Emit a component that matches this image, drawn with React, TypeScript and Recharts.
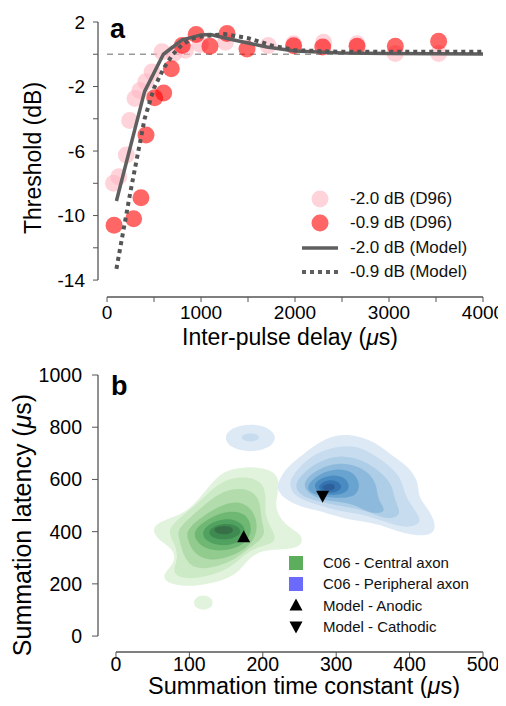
import React from "react";
import {
  ScatterChart,
  Scatter,
  XAxis,
  YAxis,
  ReferenceLine,
  Legend,
  Label,
} from "recharts";

type Pt = { x: number; y: number };
const pts = (rows: number[][]): Pt[] => rows.map(([x, y]) => ({ x, y }));

// ---- panel a: threshold vs inter-pulse delay ----
const d96Weak = pts([
  [70, -8.0], [125, -7.6], [205, -6.25], [241, -4.1], [298, -2.75], [350, -2.25],
  [412, -1.7], [479, -1.1], [585, 0.15], [709, 0.05], [833, 0.25], [993, 0.6],
  [1260, 0.75], [1715, 0.55], [1985, 0.65], [2304, 0.75], [2660, 0.65], [3067, 0.05],
  [3528, 0.05],
]);
const d96Strong = pts([
  [75, -10.6], [283, -10.2], [361, -8.9], [415, -5.0], [507, -2.7], [603, -2.4],
  [684, -0.9], [800, 0.55], [948, 1.22], [1095, 0.5], [1277, 1.28], [1489, 0.32],
  [1985, 0.53], [2295, 0.45], [2660, 0.5], [3067, 0.5], [3528, 0.8],
]);
const modelWeak = pts([
  [100, -9.1], [400, -2.3], [600, 0.0], [800, 0.9], [1000, 1.2], [1100, 1.22],
  [1300, 0.95], [1500, 0.7], [1700, 0.45], [2000, 0.2], [2500, 0.08], [3000, 0.05],
  [4000, 0.02],
]);
const modelStrong = pts([
  [100, -13.3], [250, -8.5], [400, -4.0], [500, -2.1], [600, -0.9], [700, 0.0],
  [800, 0.6], [900, 0.95], [1000, 1.1], [1250, 1.25], [1500, 1.0], [1750, 0.55],
  [2000, 0.25], [2500, 0.15], [4000, 0.15],
]);
const xTicksA = [0, 500, 1000, 1500, 2000, 2500, 3000, 3500, 4000];
const xLabelsA = [0, 1000, 2000, 3000, 4000];
const yTicksA = [2, 0, -2, -4, -6, -8, -10, -12, -14];
const yLabelsA = [2, -2, -6, -10, -14];
const legendLabelsA = ["-2.0 dB (D96)", "-0.9 dB (D96)", "-2.0 dB (Model)", "-0.9 dB (Model)"];

// ---- panel b: summation latency vs time constant (density contours) ----
const greenLevel1 = pts([
  [47, 414], [66, 446], [93, 468], [113, 525], [133, 595], [148, 634], [176, 650],
  [209, 642], [223, 607], [220, 540], [216, 483], [233, 418], [254, 390], [254, 345],
  [232, 331], [199, 331], [179, 293], [166, 239], [141, 208], [106, 188], [72, 197],
  [61, 232], [82, 284], [78, 335], [58, 366],
]);
const greenLevel2 = pts([
  [69, 406], [87, 455], [111, 507], [134, 572], [153, 604], [180, 611], [201, 590],
  [205, 521], [202, 464], [213, 408], [220, 358], [195, 343], [176, 316], [157, 262],
  [127, 228], [92, 216], [75, 243], [86, 299], [79, 360],
]);
const greenLevel3 = pts([
  [82, 406], [106, 467], [130, 526], [153, 565], [182, 565], [197, 523], [197, 444],
  [206, 385], [184, 343], [163, 293], [134, 262], [105, 255], [91, 310], [87, 368],
]);
const greenLevel4 = pts([
  [95, 406], [120, 464], [145, 504], [170, 519], [189, 478], [194, 406], [183, 345],
  [157, 304], [127, 285], [105, 318], [98, 368],
]);
const greenLevel5 = pts([
  [105, 406], [129, 457], [153, 481], [178, 473], [187, 406], [176, 350], [149, 324],
  [122, 331], [108, 368],
]);
const greenLevel6 = pts([
  [115, 406], [137, 447], [164, 451], [180, 406], [170, 358], [145, 343], [122, 360],
]);
const greenLevel7 = pts([
  [124, 406], [144, 434], [166, 426], [173, 393], [154, 366], [130, 374],
]);
const greenLevel8 = pts([
  [130, 410], [145, 425], [161, 416], [159, 392], [141, 387],
]);
const greenIsland = pts([
  [105, 128], [109, 149], [119, 158], [129, 149], [133, 128], [129, 107], [119, 98], [109, 107],
]);

const blueLevel1 = pts([
  [219, 586], [233, 648], [253, 692], [287, 765], [319, 776], [353, 745], [376, 690],
  [399, 650], [413, 586], [411, 533], [427, 483], [438, 414], [426, 381], [396, 389],
  [368, 419], [341, 438], [309, 450], [282, 477], [259, 489], [234, 517], [221, 550],
]);
const blueLevel2 = pts([
  [232, 579], [249, 648], [271, 699], [300, 727], [327, 730], [351, 697], [374, 650],
  [390, 598], [393, 540], [407, 483], [419, 433], [396, 411], [366, 438], [335, 469],
  [305, 477], [274, 504], [248, 525],
]);
const blueLevel3 = pts([
  [241, 579], [260, 640], [284, 680], [312, 693], [338, 672], [360, 630], [377, 579],
  [379, 521], [391, 462], [368, 444], [339, 484], [309, 496], [276, 515], [252, 536],
]);
const blueLevel4 = pts([
  [251, 579], [270, 632], [294, 661], [320, 661], [343, 632], [356, 579], [356, 521],
  [371, 473], [346, 467], [324, 507], [298, 515], [269, 529],
]);
const blueLevel5 = pts([
  [259, 575], [276, 621], [299, 642], [321, 634], [333, 590], [329, 536], [306, 527],
  [280, 534], [264, 549],
]);
const blueLevel6 = pts([
  [266, 575], [281, 609], [300, 619], [316, 602], [319, 557], [303, 538], [281, 542],
]);
const blueLevel7 = pts([
  [273, 571], [285, 598], [301, 598], [310, 571], [300, 548], [283, 548],
]);
const blueLevel8 = pts([
  [279, 572], [289, 585], [299, 582], [298, 557], [284, 556],
]);
const blueIsland = pts([
  [146, 759], [157, 799], [183, 815], [209, 799], [220, 759], [209, 719], [183, 703], [157, 719],
]);
const blueIslandCore = pts([
  [170, 761], [174, 773], [183, 778], [192, 773], [196, 761], [192, 749], [183, 744], [174, 749],
]);

const modelAnodic = pts([[174, 380]]);
const modelCathodic = pts([[281.5, 536]]);

const xTicksB = [0, 100, 200, 300, 400, 500];
const yTicksB = [0, 200, 400, 600, 800, 1000];
const legendLabelsB = ["C06 - Central axon", "C06 - Peripheral axon", "Model - Anodic", "Model - Cathodic"];

// colours
const greens = ["#e2f3dd", "#cdeac6", "#b2dcab", "#92cb8e", "#6fb874", "#51a260", "#3f8a50", "#376f46"];
const blues = ["#dde9f5", "#c8dcef", "#aecde6", "#8dbadc", "#69a3cf", "#4a8cc1", "#3574b0", "#2d5f9c"];
const pink = "#ffb6c1";
const red = "#ff0000";
const lineGrey = "#5f5f5f";
const axisGrey = "#555";
const font = '"Liberation Sans", Arial, Helvetica, sans-serif';

const noDot = () => <g />;
const roundDot = (fill: string) => (p: any) => (
  <circle cx={p.cx} cy={p.cy} r={8.5} fill={fill} fillOpacity={0.6} />
);
const triUp = (p: any) => (
  <path d={`M${p.cx},${p.cy - 6.5}L${p.cx + 6.5},${p.cy + 5.5}L${p.cx - 6.5},${p.cy + 5.5}Z`} fill="#000" />
);
const triDown = (p: any) => (
  <path d={`M${p.cx},${p.cy + 6.5}L${p.cx + 6.5},${p.cy - 5.5}L${p.cx - 6.5},${p.cy - 5.5}Z`} fill="#000" />
);

const Title = ({ x, y, text, size, rotate }: { x: number; y: number; text: string; size: number; rotate?: boolean }) => (
  <text
    x={x}
    y={y}
    textAnchor="middle"
    dominantBaseline="central"
    fontSize={size}
    fontFamily={font}
    fill="#000"
    transform={rotate ? `rotate(-90 ${x} ${y})` : undefined}
  >
    {text}(<tspan fontStyle="italic">μ</tspan>s)
  </text>
);

const PanelLetter = ({ x, y, text }: { x: number; y: number; text: string }) => (
  <text x={x} y={y} fontSize={27} fontWeight="bold" fontFamily={font} fill="#000">
    {text}
  </text>
);

const LegendA = () => {
  const rows = [
    <circle cx={20} cy={12} r={8.5} fill={pink} fillOpacity={0.6} />,
    <circle cx={20} cy={12} r={8.5} fill={red} fillOpacity={0.6} />,
    <line x1={2} x2={38} y1={12} y2={12} stroke={lineGrey} strokeWidth={3.5} />,
    <line x1={2} x2={38} y1={12} y2={12} stroke={lineGrey} strokeWidth={4} strokeDasharray="4 4" />,
  ];
  return (
    <div style={{ fontFamily: font, fontSize: 17, color: "#111" }}>
      {legendLabelsA.map((label, i) => (
        <div key={label} style={{ display: "flex", alignItems: "center", height: 24.3 }}>
          <svg width={40} height={24}>{rows[i]}</svg>
          <span style={{ marginLeft: 10 }}>{label}</span>
        </div>
      ))}
    </div>
  );
};

const LegendB = () => {
  const rows = [
    <rect x={8} y={4} width={14} height={14} fill="#5cad5c" />,
    <rect x={8} y={4} width={14} height={14} fill="#6a6aff" />,
    triUp({ cx: 15, cy: 11 }),
    triDown({ cx: 15, cy: 11 }),
  ];
  return (
    <div style={{ fontFamily: font, fontSize: 15, color: "#111" }}>
      {legendLabelsB.map((label, i) => (
        <div key={label} style={{ display: "flex", alignItems: "center", height: 21.3 }}>
          <svg width={30} height={22}>{rows[i]}</svg>
          <span style={{ marginLeft: 12 }}>{label}</span>
        </div>
      ))}
    </div>
  );
};

const tickStyleA = { fill: "#000", fontSize: 19, fontFamily: font };
const tickStyleB = { fill: "#000", fontSize: 19.5, fontFamily: font };

function PanelA() {
  return (
    <ScatterChart width={506} height={360} margin={{ top: 22, right: 23, bottom: 0, left: 0 }}>
      <XAxis
        type="number"
        dataKey="x"
        domain={[-96, 4000]}
        allowDataOverflow
        ticks={xTicksA}
        tickFormatter={(v: number) => (xLabelsA.includes(v) ? String(v) : "")}
        axisLine={false}
        tickLine={{ stroke: axisGrey }}
        tickSize={5}
        tickMargin={4}
        tick={tickStyleA}
        height={63}
        interval={0}
      >
        <Label content={() => <Title x={290} y={337} size={23} text="Inter-pulse delay " />} />
      </XAxis>
      <YAxis
        type="number"
        dataKey="y"
        domain={[-15.05, 2]}
        allowDataOverflow
        ticks={yTicksA}
        tickFormatter={(v: number) => (yLabelsA.includes(v) ? String(v) : "")}
        axisLine={false}
        tickLine={{ stroke: axisGrey }}
        tickSize={5}
        tickMargin={8}
        tick={tickStyleA}
        width={98}
        interval={0}
      >
        <Label
          content={() => (
            <g>
              <text x={33} y={158} textAnchor="middle" dominantBaseline="central" fontSize={23}
                fontFamily={font} transform="rotate(-90 33 158)">Threshold (dB)</text>
              <PanelLetter x={110} y={38} text="a" />
            </g>
          )}
        />
      </YAxis>
      <ReferenceLine segment={[{ x: -96, y: -14 }, { x: -96, y: 2 }]} stroke={axisGrey} strokeWidth={1.3} ifOverflow="visible" />
      <ReferenceLine segment={[{ x: 0, y: -15.05 }, { x: 4000, y: -15.05 }]} stroke={axisGrey} strokeWidth={1.3} ifOverflow="visible" />
      <ReferenceLine segment={[{ x: 0, y: 0 }, { x: 4000, y: 0 }]} stroke="#999" strokeDasharray="6 5" strokeWidth={1.3} />
      <Scatter data={d96Weak} shape={roundDot(pink)} isAnimationActive={false} />
      <Scatter data={d96Strong} shape={roundDot(red)} isAnimationActive={false} />
      <Scatter
        data={modelWeak}
        shape={noDot}
        line={{ stroke: lineGrey, strokeWidth: 3.5, fill: "none" }}
        lineJointType="linear"
        isAnimationActive={false}
      />
      <Scatter
        data={modelStrong}
        shape={noDot}
        line={{ stroke: "#555", strokeWidth: 4, strokeDasharray: "4 4", fill: "none" }}
        lineJointType="linear"
        isAnimationActive={false}
      />
      <Legend
        layout="vertical"
        align="center"
        verticalAlign="middle"
        wrapperStyle={{ left: 300, top: 187, width: 200 }}
        content={() => <LegendA />}
      />
    </ScatterChart>
  );
}

const contours: { data: Pt[]; color: string }[] = [
  { data: greenLevel1, color: greens[0] },
  { data: greenIsland, color: greens[0] },
  { data: greenLevel2, color: greens[1] },
  { data: greenLevel3, color: greens[2] },
  { data: greenLevel4, color: greens[3] },
  { data: greenLevel5, color: greens[4] },
  { data: greenLevel6, color: greens[5] },
  { data: greenLevel7, color: greens[6] },
  { data: greenLevel8, color: greens[7] },
  { data: blueIsland, color: blues[0] },
  { data: blueIslandCore, color: blues[1] },
  { data: blueLevel1, color: blues[0] },
  { data: blueLevel2, color: blues[1] },
  { data: blueLevel3, color: blues[2] },
  { data: blueLevel4, color: blues[3] },
  { data: blueLevel5, color: blues[4] },
  { data: blueLevel6, color: blues[5] },
  { data: blueLevel7, color: blues[6] },
  { data: blueLevel8, color: blues[7] },
];

function PanelB() {
  return (
    <ScatterChart width={506} height={356} margin={{ top: 25, right: 23, bottom: 0, left: 0 }}>
      <XAxis
        type="number"
        dataKey="x"
        domain={[-24.5, 500]}
        allowDataOverflow
        ticks={xTicksB}
        axisLine={false}
        tickLine={{ stroke: axisGrey }}
        tickSize={5}
        tickMargin={0}
        tick={tickStyleB}
        height={54}
        interval={0}
      >
        <Label content={() => <Title x={304} y={336} size={23.5} text="Summation time constant " />} />
      </XAxis>
      <YAxis
        type="number"
        dataKey="y"
        domain={[-61, 1000]}
        allowDataOverflow
        ticks={yTicksB}
        axisLine={false}
        tickLine={{ stroke: axisGrey }}
        tickSize={6}
        tickMargin={10}
        tick={tickStyleB}
        width={98}
        interval={0}
      >
        <Label
          content={() => (
            <g>
              <Title x={22} y={175} size={25} text="Summation latency " rotate />
              <PanelLetter x={111} y={45} text="b" />
            </g>
          )}
        />
      </YAxis>
      <ReferenceLine segment={[{ x: -24.5, y: 0 }, { x: -24.5, y: 1000 }]} stroke={axisGrey} strokeWidth={1.3} ifOverflow="visible" />
      <ReferenceLine segment={[{ x: 0, y: -61 }, { x: 500, y: -61 }]} stroke={axisGrey} strokeWidth={1.3} ifOverflow="visible" />
      {contours.map((c, i) => (
        <Scatter
          key={i}
          data={c.data}
          shape={noDot}
          line={{ fill: c.color, stroke: "none" }}
          lineType="joint"
          lineJointType="basisClosed"
          isAnimationActive={false}
        />
      ))}
      <Scatter data={modelAnodic} shape={triUp} isAnimationActive={false} />
      <Scatter data={modelCathodic} shape={triDown} isAnimationActive={false} />
      <Legend
        layout="vertical"
        align="center"
        verticalAlign="middle"
        wrapperStyle={{ left: 281, top: 202, width: 220 }}
        content={() => <LegendB />}
      />
    </ScatterChart>
  );
}

export default function App() {
  return (
    <div style={{ position: "relative", width: 506, height: 706, margin: -8, background: "#fff" }}>
      <div style={{ position: "absolute", left: 0, top: 0 }}>
        <PanelA />
      </div>
      <div style={{ position: "absolute", left: 0, top: 350 }}>
        <PanelB />
      </div>
    </div>
  );
}
